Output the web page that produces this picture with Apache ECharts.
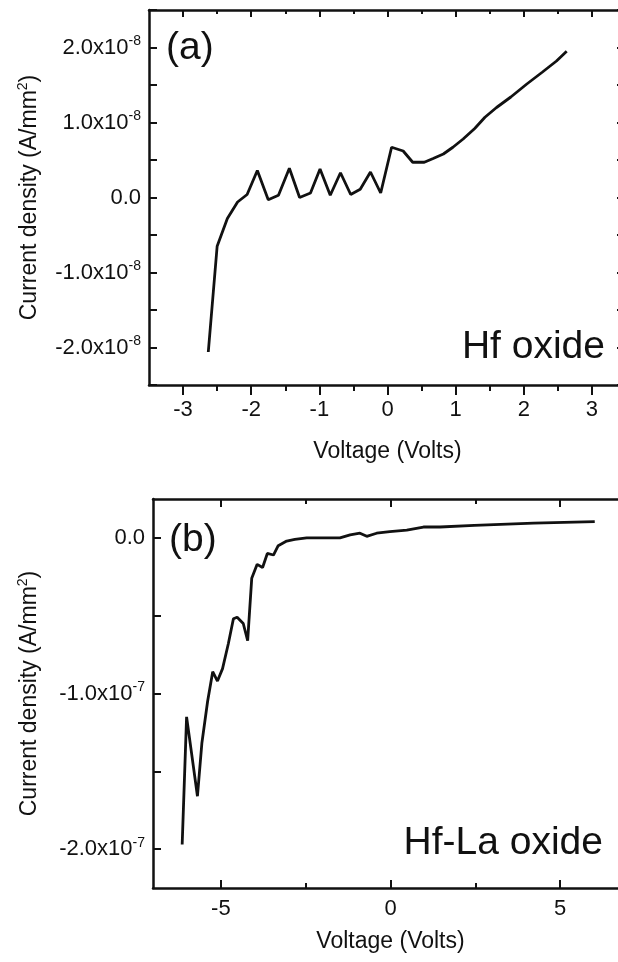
<!DOCTYPE html>
<html>
<head>
<meta charset="utf-8">
<title>I-V curves</title>
<script src="https://cdn.jsdelivr.net/npm/echarts@6/dist/echarts.min.js"></script>
<style>
  html, body { margin: 0; padding: 0; background: #fff; }
  #chart { width: 618px; height: 962px; }
</style>
</head>
<body>
<div id="chart"></div>
<script>
// (a) Hf oxide, current density in units of 1e-8 A/mm^2
let hfVolts = [-2.63, -2.50, -2.35, -2.20, -2.06, -1.91, -1.75, -1.60, -1.44, -1.29, -1.13, -0.99, -0.84,
  -0.69, -0.54, -0.40, -0.25, -0.10, 0.06, 0.23, 0.37, 0.54, 0.67, 0.82, 0.96, 1.11, 1.28, 1.43,
  1.60, 1.81, 2.04, 2.27, 2.48, 2.63];
let hfCurrent = [-2.06, -0.65, -0.28, -0.06, 0.04, 0.36, -0.03, 0.03, 0.39, 0.00, 0.06, 0.38, 0.03,
  0.33, 0.04, 0.11, 0.34, 0.06, 0.67, 0.62, 0.47, 0.47, 0.52, 0.58, 0.67, 0.78, 0.92, 1.07,
  1.20, 1.34, 1.51, 1.67, 1.82, 1.95];

// (b) Hf-La oxide, current density in units of 1e-7 A/mm^2
let hfLaVolts = [-6.14, -6.01, -5.69, -5.56, -5.39, -5.24, -5.10, -4.95, -4.78, -4.63, -4.52, -4.34,
  -4.21, -4.09, -3.93, -3.77, -3.63, -3.45, -3.31, -3.06, -2.82, -2.47, -1.49, -1.19, -0.90,
  -0.70, -0.41, -0.02, 0.48, 0.97, 1.46, 2.47, 4.22, 6.02];
let hfLaCurrent = [-1.97, -1.15, -1.66, -1.32, -1.05, -0.86, -0.92, -0.84, -0.68, -0.52, -0.51, -0.55,
  -0.66, -0.26, -0.17, -0.19, -0.10, -0.11, -0.05, -0.02, -0.01, 0.00, 0.00, 0.02, 0.03,
  0.01, 0.03, 0.04, 0.05, 0.07, 0.07, 0.08, 0.095, 0.105];

// tick / label positions
let xTicksA = [-3, -2, -1, 0, 1, 2, 3];
let xMinorA = [-2.5, -1.5, -0.5, 0.5, 1.5, 2.5];
let yTicksA = [-2.5, -2, -1.5, -1, -0.5, 0, 0.5, 1, 1.5, 2, 2.5];
let yLabelsA = [-2, -1, 0, 1, 2];
let xTicksB = [-5, 0, 5];
let xMinorB = [-2.5, 2.5];
let yTicksB = [-2, -1.5, -1, -0.5, 0];
let yLabelsB = [-2, -1, 0];

const INK = '#111';
const FONT = '"Liberation Sans", Arial, sans-serif';

function zip(xs, ys) {
  return xs.map((x, i) => [x, ys[i]]);
}

function expLabel(exp) {
  return function (v) {
    if (Math.abs(v) < 1e-9) return '{n|0.0}';
    return '{n|' + v.toFixed(1) + 'x10}{s|' + exp + '}';
  };
}

const labelRich = {
  n: { fontSize: 22, fontFamily: FONT, color: INK },
  s: { fontSize: 14, fontFamily: FONT, color: INK, padding: [0, 0, 12, 0] }
};

function line(show) {
  return { show: show, onZero: false, lineStyle: { color: INK, width: 2.5 } };
}

// one x axis = ticks at given values, optionally labels
function xAx(grid, pos, min, max, ticks, len, inside, labels, extra) {
  return Object.assign({
    type: 'value', gridIndex: grid, position: pos, min: min, max: max,
    axisLine: line(true),
    axisTick: { show: true, inside: inside, length: len, customValues: ticks, lineStyle: { color: INK, width: 2 } },
    axisLabel: labels ? { show: true, customValues: labels, margin: inside ? 10 : 14, fontSize: 22, fontFamily: FONT, color: INK } : { show: false },
    splitLine: { show: false }
  }, extra || {});
}

function yAx(grid, pos, min, max, ticks, len, labels, exp, extra) {
  return Object.assign({
    type: 'value', gridIndex: grid, position: pos, min: min, max: max,
    axisLine: line(true),
    axisTick: { show: true, inside: true, length: len, customValues: ticks, lineStyle: { color: INK, width: 2 } },
    axisLabel: labels ? { show: true, customValues: labels, margin: 8, formatter: expLabel(exp), rich: labelRich } : { show: false },
    splitLine: { show: false }
  }, extra || {});
}

const axisName = {
  fontSize: 23, fontFamily: FONT, color: INK
};
const yName = {
  rich: {
    a: { fontSize: 23, fontFamily: FONT, color: INK },
    s: { fontSize: 14, fontFamily: FONT, color: INK, padding: [0, 0, 13, 0] }
  }
};

let chart = echarts.init(document.getElementById('chart'));

let option = {
  animation: false,
  backgroundColor: '#fff',
  grid: [
    { left: 149, top: 10, width: 477, height: 375, outerBoundsMode: 'none', containLabel: false },
    { left: 153, top: 499, width: 475, height: 389, outerBoundsMode: 'none', containLabel: false }
  ],
  xAxis: [
    xAx(0, 'bottom', -3.5, 3.5, xTicksA, 10, false, xTicksA, {
      name: 'Voltage (Volts)', nameLocation: 'middle', nameGap: 55, nameTextStyle: axisName
    }),
    xAx(0, 'bottom', -3.5, 3.5, xMinorA, 6, false, null, { axisLine: line(false) }),
    xAx(0, 'top', -3.5, 3.5, xTicksA, 7, true, null),
    xAx(0, 'top', -3.5, 3.5, xMinorA, 4, true, null, { axisLine: line(false) }),
    xAx(1, 'bottom', -7, 7, xTicksB, 8, true, xTicksB, {
      name: 'Voltage (Volts)', nameLocation: 'middle', nameGap: 42, nameTextStyle: axisName
    }),
    xAx(1, 'bottom', -7, 7, xMinorB, 5, true, null, { axisLine: line(false) }),
    xAx(1, 'top', -7, 7, xTicksB, 8, true, null),
    xAx(1, 'top', -7, 7, xMinorB, 5, true, null, { axisLine: line(false) })
  ],
  yAxis: [
    yAx(0, 'left', -2.5, 2.5, yTicksA, 8, yLabelsA, '-8', {
      name: '{a|Current density (A/mm}{s|2}{a|)}', nameLocation: 'middle', nameGap: 106, nameTextStyle: yName
    }),
    yAx(0, 'right', -2.5, 2.5, yTicksA, 9, null),
    yAx(1, 'left', -2.25, 0.25, yTicksB, 8, yLabelsB, '-7', {
      name: '{a|Current density (A/mm}{s|2}{a|)}', nameLocation: 'middle', nameGap: 110, nameTextStyle: yName
    }),
    yAx(1, 'right', -2.25, 0.25, yTicksB, 9, null)
  ],
  series: [
    {
      name: 'Hf oxide', type: 'line', xAxisIndex: 0, yAxisIndex: 0,
      data: zip(hfVolts, hfCurrent), symbol: 'none',
      lineStyle: { color: INK, width: 2.8 }
    },
    {
      name: 'Hf-La oxide', type: 'line', xAxisIndex: 4, yAxisIndex: 2,
      data: zip(hfLaVolts, hfLaCurrent), symbol: 'none',
      lineStyle: { color: INK, width: 2.8 }
    }
  ],
  graphic: [
    { type: 'text', style: { x: 166, y: 48, text: '(a)', font: '39px ' + FONT, fill: INK, verticalAlign: 'middle' } },
    { type: 'text', style: { x: 605, y: 347, text: 'Hf oxide', font: '39px ' + FONT, fill: INK, align: 'right', verticalAlign: 'middle' } },
    { type: 'text', style: { x: 169, y: 540, text: '(b)', font: '39px ' + FONT, fill: INK, verticalAlign: 'middle' } },
    { type: 'text', style: { x: 603, y: 843, text: 'Hf-La oxide', font: '39px ' + FONT, fill: INK, align: 'right', verticalAlign: 'middle' } }
  ]
};

chart.setOption(option);
</script>
</body>
</html>
